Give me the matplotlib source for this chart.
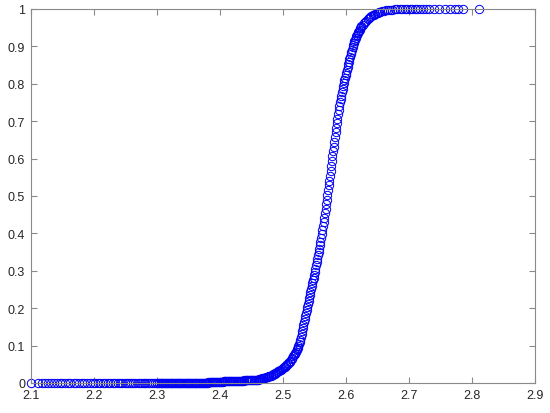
import numpy as np
import matplotlib
matplotlib.use("Agg")
import matplotlib.pyplot as plt

plt.rcParams['font.family'] = ['Liberation Sans', 'DejaVu Sans']

# lower tail
x_low = [2.100, 2.112, 2.118, 2.123, 2.128, 2.132, 2.137, 2.141, 2.146, 2.150,
         2.155, 2.159, 2.163, 2.168, 2.172, 2.176, 2.181, 2.185, 2.190, 2.194,
         2.198, 2.202, 2.206, 2.210, 2.214, 2.218, 2.222, 2.226, 2.230, 2.234,
         2.238, 2.242, 2.245, 2.249, 2.252, 2.256, 2.259, 2.263, 2.266, 2.270,
         2.273, 2.276, 2.279, 2.282, 2.285, 2.288, 2.291, 2.294, 2.297, 2.300,
         2.301, 2.303, 2.304, 2.306, 2.307, 2.309, 2.310, 2.312, 2.313, 2.315,
         2.316, 2.318, 2.319, 2.321, 2.322, 2.324, 2.325, 2.327, 2.328, 2.330,
         2.331, 2.333, 2.334, 2.336, 2.337, 2.339, 2.340, 2.342, 2.343, 2.345,
         2.346, 2.348, 2.349, 2.351, 2.352, 2.354, 2.355, 2.357, 2.358, 2.360,
         2.361, 2.363, 2.364, 2.366, 2.367, 2.369, 2.370, 2.372, 2.373, 2.375,
         2.376, 2.378, 2.379, 2.381, 2.382, 2.384, 2.385, 2.387, 2.388, 2.390,
         2.391, 2.393, 2.394, 2.396, 2.397, 2.399, 2.400, 2.402, 2.403, 2.405,
         2.406, 2.408, 2.409, 2.411, 2.412, 2.414, 2.415, 2.417, 2.418, 2.420,
         2.421, 2.423, 2.424, 2.426, 2.427, 2.429, 2.430, 2.432, 2.433, 2.435,
         2.436, 2.438, 2.439, 2.441, 2.442, 2.444, 2.445, 2.447, 2.448, 2.450]
y_low = [0.000, 0.000, 0.000, 0.000, 0.000, 0.000, 0.000, 0.000, 0.000, 0.000,
         0.000, 0.000, 0.000, 0.000, 0.000, 0.000, 0.000, 0.000, 0.000, 0.000,
         0.000, 0.000, 0.000, 0.000, 0.000, 0.000, 0.000, 0.000, 0.000, 0.000,
         0.000, 0.000, 0.000, 0.000, 0.000, 0.000, 0.000, 0.000, 0.000, 0.000,
         0.000, 0.000, 0.000, 0.000, 0.000, 0.000, 0.000, 0.000, 0.000, 0.000,
         0.000, 0.000, 0.000, 0.000, 0.000, 0.000, 0.000, 0.000, 0.000, 0.000,
         0.000, 0.000, 0.000, 0.000, 0.000, 0.000, 0.000, 0.000, 0.000, 0.000,
         0.000, 0.000, 0.000, 0.000, 0.000, 0.000, 0.000, 0.000, 0.000, 0.000,
         0.000, 0.000, 0.000, 0.000, 0.000, 0.000, 0.000, 0.000, 0.000, 0.000,
         0.000, 0.000, 0.000, 0.000, 0.000, 0.001, 0.001, 0.001, 0.001, 0.001,
         0.001, 0.001, 0.001, 0.001, 0.002, 0.002, 0.002, 0.002, 0.002, 0.002,
         0.002, 0.002, 0.003, 0.003, 0.003, 0.003, 0.003, 0.003, 0.003, 0.003,
         0.004, 0.004, 0.004, 0.004, 0.004, 0.004, 0.004, 0.005, 0.005, 0.005,
         0.005, 0.005, 0.005, 0.005, 0.005, 0.006, 0.006, 0.006, 0.006, 0.006,
         0.006, 0.006, 0.007, 0.007, 0.007, 0.007, 0.007, 0.007, 0.007, 0.007]

# rising part
x_rise = [2.451, 2.452, 2.454, 2.455, 2.457, 2.458, 2.460, 2.461, 2.463, 2.464,
          2.466, 2.467, 2.469, 2.470, 2.472, 2.473, 2.475, 2.476, 2.478, 2.479,
          2.481, 2.482, 2.484, 2.485, 2.487, 2.488, 2.490, 2.491, 2.493, 2.494,
          2.496, 2.497, 2.499, 2.500, 2.502, 2.503, 2.505, 2.506, 2.508, 2.509,
          2.511, 2.512, 2.514, 2.515, 2.517, 2.518, 2.519,
          2.520, 2.521, 2.522, 2.523, 2.524,
          2.525, 2.526, 2.527, 2.528, 2.529, 2.530, 2.531, 2.532, 2.533, 2.534,
          2.535, 2.536, 2.537, 2.538, 2.539, 2.540, 2.541, 2.542, 2.543, 2.544,
          2.545, 2.546, 2.547, 2.548, 2.549, 2.550, 2.551, 2.552, 2.553, 2.554,
          2.555, 2.556, 2.557, 2.558, 2.559, 2.560, 2.561, 2.562, 2.563, 2.564,
          2.565, 2.566, 2.567, 2.568, 2.569, 2.570, 2.571, 2.572, 2.573, 2.574,
          2.575, 2.576, 2.577, 2.578, 2.579, 2.580, 2.581, 2.582, 2.583, 2.584,
          2.585, 2.586, 2.587, 2.588, 2.589, 2.590, 2.591, 2.592, 2.593, 2.594,
          2.595, 2.596, 2.597, 2.598, 2.599, 2.600, 2.601, 2.602, 2.603, 2.604,
          2.605, 2.606, 2.607, 2.608, 2.609, 2.610, 2.611, 2.612, 2.613, 2.614,
          2.615, 2.616, 2.617, 2.618, 2.619, 2.620, 2.621, 2.622, 2.623, 2.624,
          2.625, 2.627, 2.629, 2.631, 2.633, 2.635, 2.637, 2.639, 2.641, 2.643,
          2.645, 2.647, 2.649, 2.651, 2.653, 2.655, 2.658, 2.661, 2.664, 2.667,
          2.670, 2.674, 2.678, 2.682, 2.686, 2.690, 2.694, 2.698, 2.702]
y_rise = [0.007, 0.007, 0.008, 0.008, 0.008, 0.009, 0.009, 0.009, 0.010, 0.010,
          0.011, 0.012, 0.013, 0.013, 0.014, 0.015, 0.016, 0.017, 0.018, 0.019,
          0.020, 0.020, 0.022, 0.023, 0.025, 0.026, 0.028, 0.029, 0.031, 0.032,
          0.034, 0.035, 0.038, 0.039, 0.042, 0.043, 0.046, 0.048, 0.051, 0.053,
          0.057, 0.059, 0.063, 0.066, 0.071, 0.074, 0.077,
          0.080, 0.083, 0.087, 0.090, 0.094,
          0.099, 0.104, 0.110, 0.116, 0.122, 0.130, 0.138, 0.146, 0.155, 0.163,
          0.172, 0.180, 0.188, 0.196, 0.204, 0.211, 0.219, 0.226, 0.234, 0.242,
          0.250, 0.258, 0.266, 0.274, 0.282, 0.290, 0.298, 0.306, 0.315, 0.323,
          0.332, 0.341, 0.350, 0.359, 0.368, 0.378, 0.388, 0.398, 0.408, 0.419,
          0.430, 0.442, 0.454, 0.466, 0.478, 0.490, 0.503, 0.515, 0.528, 0.541,
          0.554, 0.567, 0.580, 0.593, 0.606, 0.619, 0.632, 0.645, 0.658, 0.671,
          0.683, 0.695, 0.707, 0.719, 0.730, 0.740, 0.750, 0.759, 0.768, 0.777,
          0.785, 0.793, 0.801, 0.809, 0.816, 0.823, 0.830, 0.838, 0.845, 0.852,
          0.859, 0.866, 0.872, 0.879, 0.885, 0.891, 0.897, 0.903, 0.908, 0.913,
          0.918, 0.923, 0.927, 0.931, 0.935, 0.939, 0.942, 0.945, 0.948, 0.951,
          0.954, 0.958, 0.962, 0.966, 0.969, 0.972, 0.975, 0.978, 0.981, 0.983,
          0.985, 0.987, 0.989, 0.990, 0.992, 0.993, 0.994, 0.995, 0.996, 0.997,
          0.998, 0.998, 0.999, 0.999, 1.000, 1.000, 1.000, 1.000, 1.000]

# upper tail
x_up = [2.706, 2.710, 2.714, 2.718, 2.722, 2.727, 2.733, 2.740, 2.748, 2.758,
        2.766, 2.774, 2.779, 2.787, 2.812]
y_up = [1.000, 1.000, 1.000, 1.000, 1.000, 1.000, 1.000, 1.000, 1.000, 1.000,
        1.000, 1.000, 1.000, 1.000, 1.000]

x = np.array(x_low + x_rise + x_up)
y = np.array(y_low + y_rise + y_up)

fig = plt.figure(figsize=(5.5, 4.14), dpi=100)
ax = fig.add_axes([0.056, 0.0725, 0.916, 0.9035])

ax.plot(x, y, 'o', mfc='none', mec=(0, 0, 0.95), ms=6, mew=0.7, clip_on=False)

ax.set_xlim(2.1, 2.9)
ax.set_ylim(0, 1)
ax.set_xticks(np.arange(2.1, 2.91, 0.1))
ax.set_xticklabels(['2.1', '2.2', '2.3', '2.4', '2.5', '2.6', '2.7', '2.8', '2.9'])
ax.set_yticks(np.arange(0, 1.01, 0.1))
ax.set_yticklabels(['0', '0.1', '0.2', '0.3', '0.4', '0.5', '0.6', '0.7', '0.8', '0.9', '1'])

axcol = '#8a8a8a'
for s in ax.spines.values():
    s.set_color(axcol)
    s.set_linewidth(0.8)
ax.tick_params(direction='in', length=4, width=0.8, color=axcol,
               labelcolor='#262626', labelsize=9,
               top=True, right=True, pad=4)

fig.savefig('out.png', dpi=100)
